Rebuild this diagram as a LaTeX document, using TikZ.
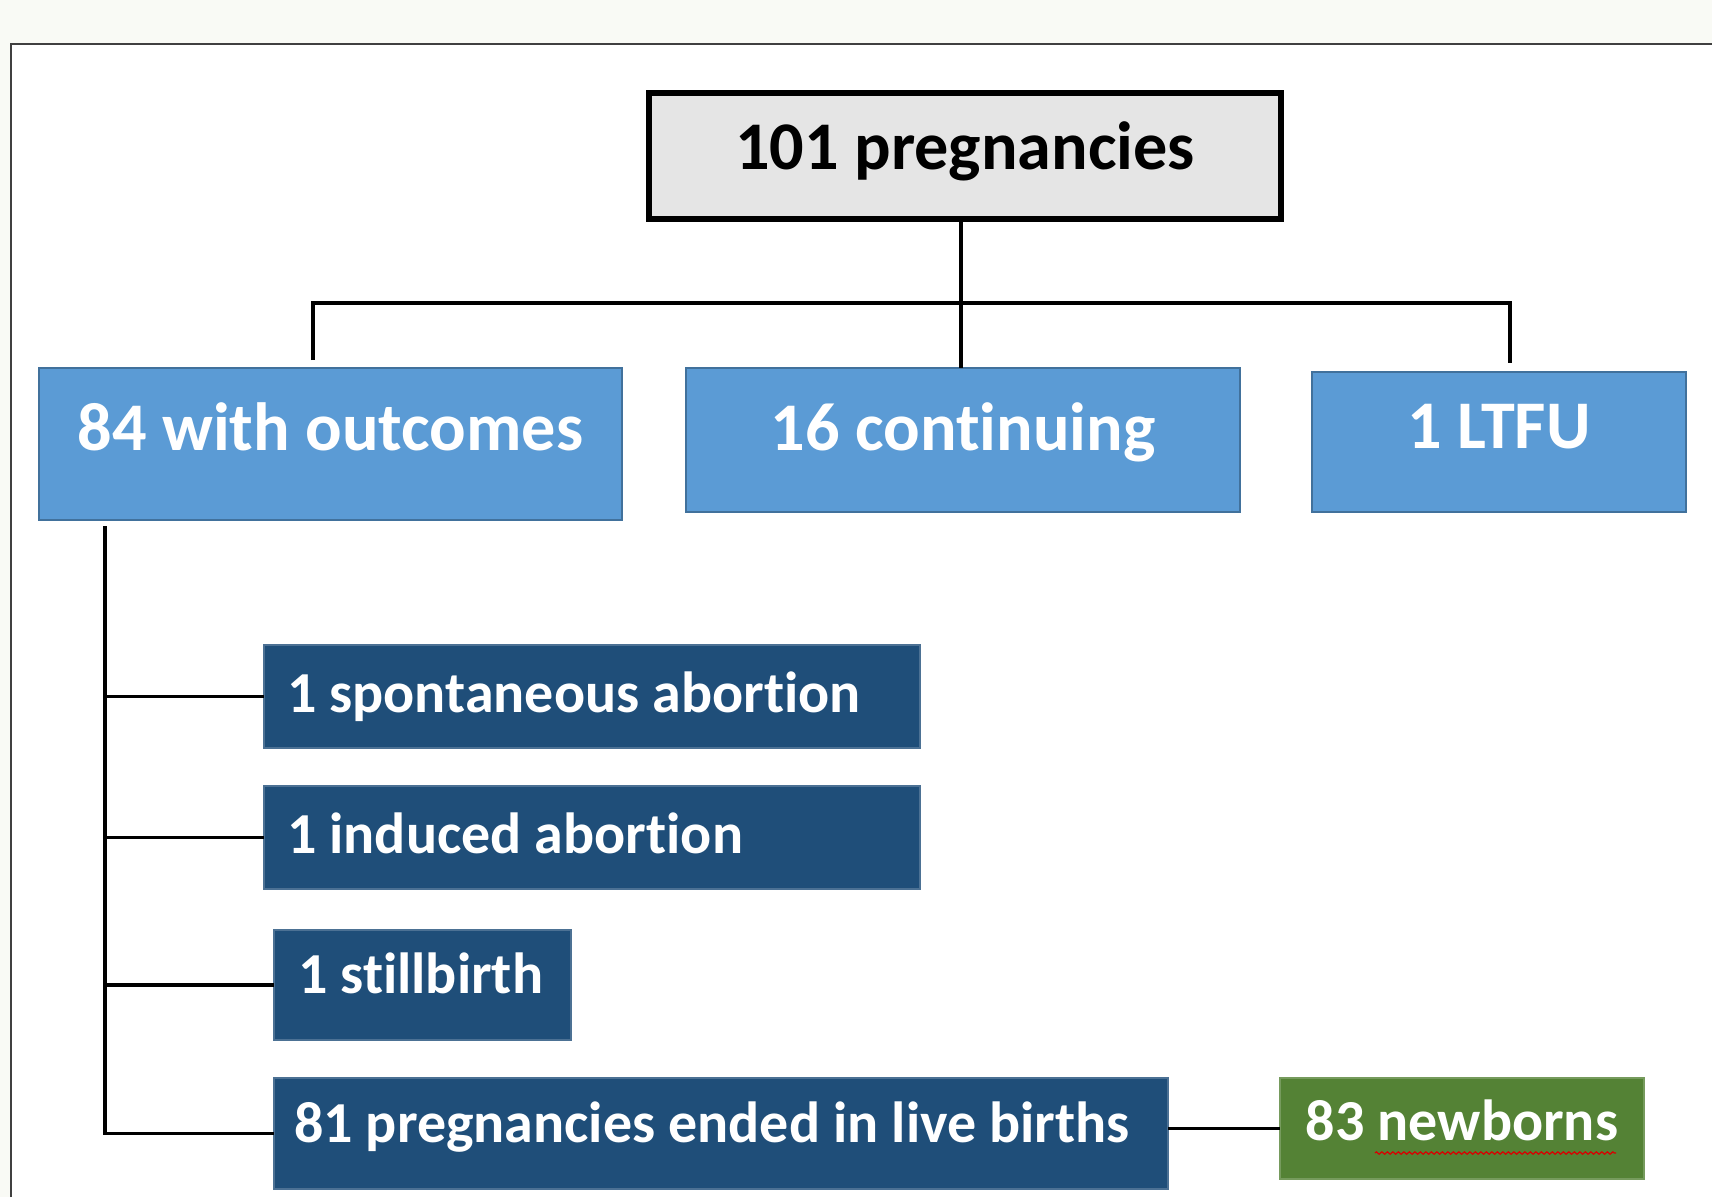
\documentclass[tikz,border=0pt]{standalone}
\usepackage{fontspec}
\setmainfont{Carlito}[Ligatures=NoCommon]
\usepackage{tikz}
\usetikzlibrary{positioning,calc,decorations.pathmorphing}
\definecolor{PageGrey}{RGB}{249,250,245}
\definecolor{TopGrey}{RGB}{229,229,229}
\definecolor{MidBlue}{RGB}{91,155,213}
\definecolor{MidBlueEdge}{RGB}{65,113,156}
\definecolor{DeepBlue}{RGB}{31,78,121}
\definecolor{LeafGreen}{RGB}{84,130,53}
\newcommand{\boxtext}[2]{\makebox[#1][l]{#2}}

\begin{document}
\begin{tikzpicture}[
    % Style for the top box
    totalbox/.style={
        draw=black, line width=1.7pt, fill=TopGrey,
        font=\bfseries\fontsize{19.4pt}{23pt}\selectfont,
        inner xsep=0pt, inner ysep=0pt, outer sep=0pt, anchor=north west
    },
    % Style for the light blue group boxes
    groupbox/.style={
        draw=MidBlueEdge, line width=0.6pt, fill=MidBlue, text=white,
        font=\bfseries\fontsize{19.4pt}{23pt}\selectfont,
        inner xsep=0pt, inner ysep=0pt, outer sep=0pt, anchor=north west
    },
    % Style for the dark blue outcome boxes
    outcomebox/.style={
        draw=DeepBlue!80!white, line width=0.4pt, fill=DeepBlue, text=white,
        font=\bfseries\fontsize{16.5pt}{20pt}\selectfont,
        inner ysep=0pt, outer sep=0pt, anchor=north west
    },
    % Style for the green box
    birthbox/.style={
        draw=LeafGreen!80!white, line width=0.4pt, fill=LeafGreen, text=white,
        font=\bfseries\fontsize{16.5pt}{20pt}\selectfont,
        inner xsep=0pt, inner ysep=0pt, outer sep=0pt, anchor=north west
    },
    % Style for the tree lines
    link/.style={draw=black, line width=1.1pt}
]
    \useasboundingbox (0,0) rectangle (17.12,-11.97);

    % --- 0. Page and frame ---
    \fill[PageGrey] (0,0) rectangle (17.12,-11.97);
    \fill[white] (0.11,-0.44) rectangle (17.12,-11.97);
    \draw[black!75, line width=0.8pt] (0.11,-11.97) -- (0.11,-0.44) -- (17.12,-0.44);

    % --- 1. Top box and the three groups ---
    \node[totalbox, minimum width=6.32cm, text height=0.76cm, text depth=0.50cm] (total) at (6.49,-0.93) {101 pregnancies};

    \node[groupbox, minimum width=5.83cm, text height=0.82cm, text depth=0.70cm] (outc) at (0.39,-3.68) {84 with outcomes};
    \node[groupbox, minimum width=5.54cm, text height=0.82cm, text depth=0.62cm] (cont) at (6.86,-3.68) {16 continuing};
    \node[groupbox, minimum width=3.74cm, text height=0.76cm, text depth=0.64cm] (ltfu) at (13.12,-3.72) {1 LTFU};

    \coordinate (barL) at (3.13,-3.03);
    \coordinate (barR) at (15.10,-3.03);
    \coordinate (dropL) at (3.13,-3.60);
    \coordinate (dropR) at (15.10,-3.63);
    \coordinate (stem) at (9.61,-2.19);
    \draw[link] (stem) -- (stem |- cont.north);
    \draw[link] (dropL) -- (barL) -- (barR) -- (dropR);

    % --- 2. Outcome boxes ---
    \node[outcomebox, inner xsep=0.23cm, text height=0.67cm, text depth=0.36cm] (spont) at (2.64,-6.45) {\boxtext{6.10cm}{1 spontaneous abortion}};
    \node[outcomebox, inner xsep=0.23cm, text height=0.67cm, text depth=0.36cm] (induc) at (2.64,-7.86) {\boxtext{6.10cm}{1 induced abortion}};
    \node[outcomebox, inner xsep=0.24cm, text height=0.63cm, text depth=0.47cm] (still) at (2.74,-9.30) {\boxtext{2.49cm}{1 stillbirth}};
    \node[outcomebox, inner xsep=0.20cm, text height=0.64cm, text depth=0.47cm] (live) at (2.74,-10.78) {\boxtext{8.54cm}{81 pregnancies ended in live births}};
    \node[birthbox, minimum width=3.64cm, text height=0.62cm, text depth=0.39cm] (born) at (12.80,-10.78) {83 newborns};

    % --- 3. Tree lines on the left ---
    \coordinate (spine) at (1.05,-5.26);
    \draw[link] (spine) -- (spine |- live.west) -- (live.west);
    \foreach \b in {spont, induc, still} {
        \draw[link] (spine |- \b.west) -- (\b.west);
    }
    \draw[link] (born.west -| live.east) -- (born.west);

    % spell-check mark under the word
    \draw[red!85!black, line width=0.35pt, decorate, decoration={zigzag, segment length=0.055cm, amplitude=0.012cm}]
        ($(born.base)+(-0.87,-0.13)$) -- ++(2.41,0);
\end{tikzpicture}
\end{document}
